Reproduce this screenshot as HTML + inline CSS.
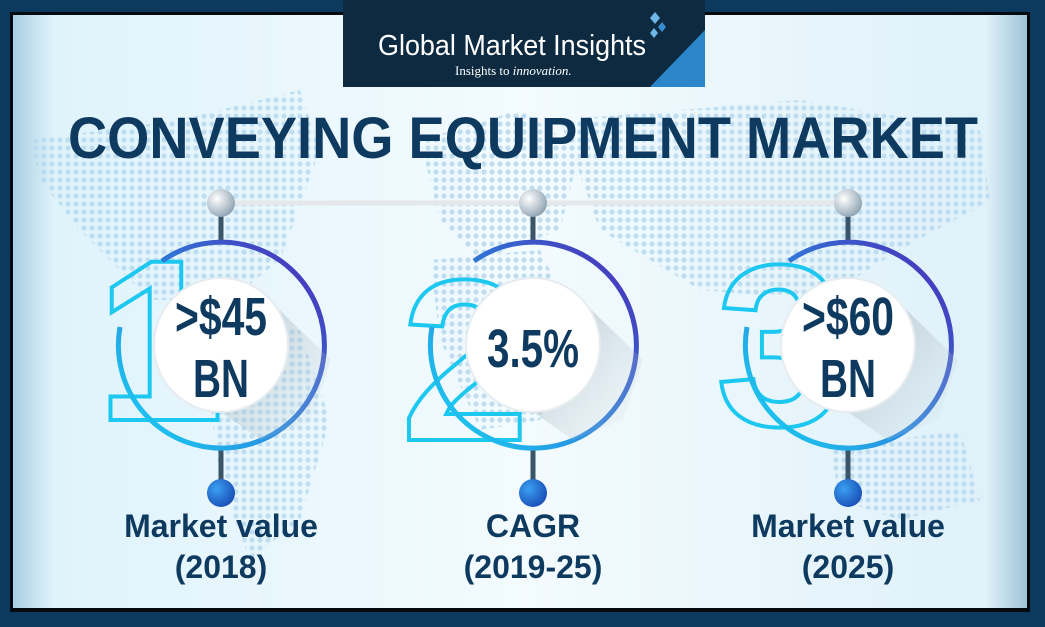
<!DOCTYPE html>
<html><head><meta charset="utf-8"><style>
html,body{margin:0;padding:0;width:1045px;height:627px;overflow:hidden;background:#0b3a5e}
svg{display:block}
</style></head><body>
<svg width="1045" height="627" viewBox="0 0 1045 627" xmlns="http://www.w3.org/2000/svg">
<defs>
<linearGradient id="bg" x1="0" x2="1" y1="0" y2="0">
<stop offset="0" stop-color="#a9cfe3"/><stop offset="0.04" stop-color="#dff3fb"/><stop offset="0.5" stop-color="#f3fbfe"/><stop offset="0.96" stop-color="#dff1f9"/><stop offset="1" stop-color="#9fc3d6"/>
</linearGradient>
<linearGradient id="ring" gradientUnits="userSpaceOnUse" x1="-100" y1="440" x2="100" y2="260">
<stop offset="0" stop-color="#19d3f3"/><stop offset="0.45" stop-color="#2a8be0"/><stop offset="1" stop-color="#4a2fb8"/>
</linearGradient>
<radialGradient id="ball" cx="0.35" cy="0.35" r="0.7">
<stop offset="0" stop-color="#ffffff"/><stop offset="1" stop-color="#8fa3b3"/>
</radialGradient>
<radialGradient id="dot" cx="0.35" cy="0.35" r="0.7">
<stop offset="0" stop-color="#3aa0f0"/><stop offset="1" stop-color="#1a4fb8"/>
</radialGradient>
<pattern id="dots" width="8" height="8" patternUnits="userSpaceOnUse"><circle cx="4" cy="4" r="2.6" fill="#b7d9ef"/></pattern>
<linearGradient id="shadow" x1="0" y1="0" x2="1" y2="1"><stop offset="0" stop-color="#9aa7b0" stop-opacity="0.7"/><stop offset="1" stop-color="#c8d4dc" stop-opacity="0"/></linearGradient>
</defs>
<rect x="0" y="0" width="1045" height="627" fill="#0b3a5e"/>
<rect x="10" y="12" width="1020" height="600" fill="#050a10"/>
<rect x="13" y="15" width="1014" height="593" fill="url(#bg)"/>
<g opacity="0.85">
<path d="M30 140 L180 120 L300 90 L320 150 L280 260 L230 300 L150 300 L80 230 L40 180 Z" fill="url(#dots)"/>
<path d="M200 320 L300 330 L330 420 L300 520 L250 560 L220 480 Z" fill="url(#dots)"/>
<path d="M420 140 L520 110 L580 150 L560 230 L480 260 L440 220 Z" fill="url(#dots)"/>
<path d="M430 260 L540 250 L580 330 L540 420 L480 430 L440 340 Z" fill="url(#dots)"/>
<path d="M560 120 L800 100 L980 130 L990 200 L900 250 L820 300 L700 290 L600 230 Z" fill="url(#dots)"/>
<path d="M830 450 L960 430 L980 500 L900 520 L840 500 Z" fill="url(#dots)"/>
</g>
<rect x="343" y="0" width="362" height="87" fill="#0d2a40"/>
<polygon points="705,30 705,87 650,87" fill="#2a86c8"/>
<text x="378" y="55" font-family="Liberation Sans, sans-serif" font-size="29" fill="#ffffff" textLength="268" lengthAdjust="spacingAndGlyphs">Global Market Insights</text>
<text x="455" y="75" font-family="Liberation Serif, serif" font-size="13" fill="#ffffff">Insights to <tspan font-style="italic">innovation.</tspan></text>
<polygon points="655,12 660,18 655,24 650,18" fill="#6fb6e6"/><polygon points="662,22 666,27 662,32 658,27" fill="#3a8ed0"/><polygon points="654,28 658,33 654,38 650,33" fill="#6fb6e6"/>
<text x="523" y="158" text-anchor="middle" font-family="Liberation Sans, sans-serif" font-weight="bold" font-size="58" fill="#0f3a5f" textLength="910" lengthAdjust="spacingAndGlyphs">CONVEYING EQUIPMENT MARKET</text>
<line x1="222" y1="203" x2="848" y2="203" stroke="#e4e8eb" stroke-width="5"/>
<g transform="translate(221,0)">
<line x1="0" y1="203" x2="0" y2="243" stroke="#3b5568" stroke-width="5"/>
<line x1="0" y1="447" x2="0" y2="492" stroke="#3b5568" stroke-width="5"/>
<text x="-125" y="420" font-family="Liberation Sans, sans-serif" font-weight="bold" font-size="230" fill="none" stroke="#1dc8f0" stroke-width="4">1</text>
<path d="M-59 261 A103 103 0 1 1 -101 327" fill="none" stroke="url(#ring)" stroke-width="5"/>
<polygon points="40,292 110,360 90,420 40,440 0,412" fill="url(#shadow)"/>
<circle cx="0" cy="345" r="67" fill="#ffffff" stroke="#e6ecef" stroke-width="2"/>
<text x="0" y="335" text-anchor="middle" font-family="Liberation Sans Narrow, Liberation Sans, sans-serif" font-weight="bold" font-size="54" fill="#0f3a5f" textLength="92" lengthAdjust="spacingAndGlyphs">&gt;$45</text>
<text x="0" y="397" text-anchor="middle" font-family="Liberation Sans Narrow, Liberation Sans, sans-serif" font-weight="bold" font-size="54" fill="#0f3a5f" textLength="56" lengthAdjust="spacingAndGlyphs">BN</text>
<circle cx="0" cy="203" r="14" fill="url(#ball)"/>
<circle cx="0" cy="493" r="14" fill="url(#dot)"/>
<text x="0" y="537" text-anchor="middle" font-family="Liberation Sans, sans-serif" font-weight="bold" font-size="32" fill="#0f3a5f">Market value</text>
<text x="0" y="578" text-anchor="middle" font-family="Liberation Sans, sans-serif" font-weight="bold" font-size="32" fill="#0f3a5f">(2018)</text>
</g>
<g transform="translate(533,0)">
<line x1="0" y1="203" x2="0" y2="243" stroke="#3b5568" stroke-width="5"/>
<line x1="0" y1="447" x2="0" y2="492" stroke="#3b5568" stroke-width="5"/>
<text x="-132" y="440" font-family="Liberation Sans, sans-serif" font-weight="bold" font-size="230" fill="none" stroke="#1dc8f0" stroke-width="4">2</text>
<path d="M-59 261 A103 103 0 1 1 -101 327" fill="none" stroke="url(#ring)" stroke-width="5"/>
<polygon points="40,292 110,360 90,420 40,440 0,412" fill="url(#shadow)"/>
<circle cx="0" cy="345" r="67" fill="#ffffff" stroke="#e6ecef" stroke-width="2"/>
<text x="0" y="367" text-anchor="middle" font-family="Liberation Sans Narrow, Liberation Sans, sans-serif" font-weight="bold" font-size="54" fill="#0f3a5f" textLength="92" lengthAdjust="spacingAndGlyphs">3.5%</text>
<circle cx="0" cy="203" r="14" fill="url(#ball)"/>
<circle cx="0" cy="493" r="14" fill="url(#dot)"/>
<text x="0" y="537" text-anchor="middle" font-family="Liberation Sans, sans-serif" font-weight="bold" font-size="32" fill="#0f3a5f">CAGR</text>
<text x="0" y="578" text-anchor="middle" font-family="Liberation Sans, sans-serif" font-weight="bold" font-size="32" fill="#0f3a5f">(2019-25)</text>
</g>
<g transform="translate(848,0)">
<line x1="0" y1="203" x2="0" y2="243" stroke="#3b5568" stroke-width="5"/>
<line x1="0" y1="447" x2="0" y2="492" stroke="#3b5568" stroke-width="5"/>
<text x="-132" y="425" font-family="Liberation Sans, sans-serif" font-weight="bold" font-size="230" fill="none" stroke="#1dc8f0" stroke-width="4">3</text>
<path d="M-59 261 A103 103 0 1 1 -101 327" fill="none" stroke="url(#ring)" stroke-width="5"/>
<polygon points="40,292 110,360 90,420 40,440 0,412" fill="url(#shadow)"/>
<circle cx="0" cy="345" r="67" fill="#ffffff" stroke="#e6ecef" stroke-width="2"/>
<text x="0" y="335" text-anchor="middle" font-family="Liberation Sans Narrow, Liberation Sans, sans-serif" font-weight="bold" font-size="54" fill="#0f3a5f" textLength="92" lengthAdjust="spacingAndGlyphs">&gt;$60</text>
<text x="0" y="397" text-anchor="middle" font-family="Liberation Sans Narrow, Liberation Sans, sans-serif" font-weight="bold" font-size="54" fill="#0f3a5f" textLength="56" lengthAdjust="spacingAndGlyphs">BN</text>
<circle cx="0" cy="203" r="14" fill="url(#ball)"/>
<circle cx="0" cy="493" r="14" fill="url(#dot)"/>
<text x="0" y="537" text-anchor="middle" font-family="Liberation Sans, sans-serif" font-weight="bold" font-size="32" fill="#0f3a5f">Market value</text>
<text x="0" y="578" text-anchor="middle" font-family="Liberation Sans, sans-serif" font-weight="bold" font-size="32" fill="#0f3a5f">(2025)</text>
</g>
</svg>
</body></html>
